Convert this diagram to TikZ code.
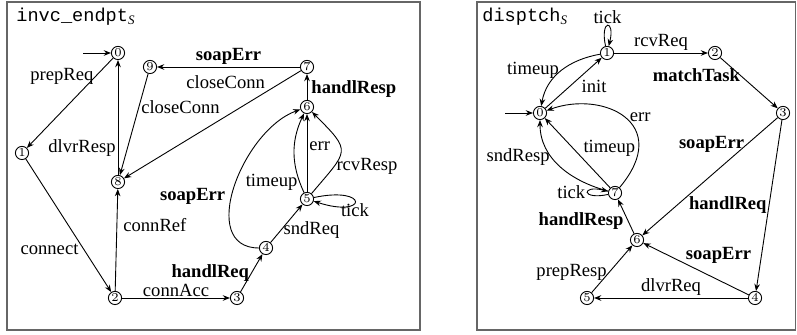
\documentclass[tikz,border=0pt]{standalone}
\usepackage[no-math]{fontspec}
\setmainfont{Liberation Serif}
\setmonofont{Liberation Mono}
\usetikzlibrary{arrows.meta}
\definecolor{framegray}{gray}{0.4}

\begin{document}
\begin{tikzpicture}[
    x=0.5pt, y=0.5pt,
    font=\fontsize{9.3}{10}\selectfont,
    every node/.append style={inner sep=1pt},
    stc/.style={circle, draw, line width=.45pt, minimum size=6.6pt,
                inner sep=0pt, font=\fontsize{6}{7}\selectfont},
    blbl/.style={font=\fontsize{9.3}{10}\selectfont\bfseries},
    a/.style={-{Stealth[length=3.6pt,width=2.8pt]}, line width=.45pt},
    panel/.style={draw=framegray, line width=.8pt}
  ]
  \useasboundingbox (0,0) rectangle (797,335);

  % frames and titles
  \draw[panel] (7,5) rectangle (420,333);
  \draw[panel] (477,5) rectangle (795.5,333);
  \node[anchor=west] (t1) at (14,318) {\texttt{invc\_endpt}\textsubscript{\textit{S}}};
  \node[anchor=west] (t2) at (480,318) {\texttt{disptch}\textsubscript{\textit{S}}};

  % invc_endpt states
  \node[stc] (i0) at (118,282) {$0$};
  \node[stc] (i1) at (22,182)  {$1$};
  \node[stc] (i2) at (115,37)  {$2$};
  \node[stc] (i3) at (237,37)  {$3$};
  \node[stc] (i4) at (266,87)  {$4$};
  \node[stc] (i5) at (307,136) {$5$};
  \node[stc] (i6) at (307,228) {$6$};
  \node[stc] (i7) at (307,268) {$7$};
  \node[stc] (i8) at (118,153) {$8$};
  \node[stc] (i9) at (150,268) {$9$};
  \coordinate (s0) at (83,282);

  \draw[a] (s0) -- (i0);
  \draw[a] (i0) -- node[pos=.2, left] {prepReq} (i1);
  \draw[a] (i1) -- node[pos=.68, left=1.5pt] {connect} (i2);
  \draw[a] (i2) -- node[above, inner sep=.5pt] {connAcc} (i3);
  \draw[a] (i3) -- node[pos=.5, left, blbl] {handlReq} (i4);
  \draw[a] (i4) -- node[pos=.33, right] {sndReq} (i5);
  \draw[a] (i2) -- node[pos=.65, right=2pt] {connRef} (i8);
  \draw[a] (i8) -- node[pos=.23, left] {dlvrResp} (i0);
  \draw[a] (i9) -- node[pos=.33, right] {closeConn} (i8);
  \draw[a] (i7) -- node[above, blbl] {soapErr} (i9);
  \draw[a] (i7) -- node[pos=.19, anchor=south east] {closeConn} (i8);
  \draw[a] (i6) -- node[pos=.43, right=1pt, blbl] {handlResp} (i7);
  \draw[a] (i5) -- node[pos=.59, right] {err} (i6);
  \draw[a] (i5) to[bend left=25] node[pos=.12, left] {timeup} (i6);
  \draw[a] (i5) to[out=50, in=-45, looseness=1.8] node[pos=.27, right] {rcvResp} (i6);
  \draw[a] (i5) .. controls +(12:32pt) and +(-18:32pt) .. node[below] {tick} (i5);
  \draw[a] (i4) to[out=180, in=200, looseness=1.1] node[pos=.45, left=2pt, blbl] {soapErr} (i6);

  % disptch states
  \node[stc] (d0) at (540,222) {$0$};
  \node[stc] (d1) at (607,282) {$1$};
  \node[stc] (d2) at (715,282) {$2$};
  \node[stc] (d3) at (783,222) {$3$};
  \node[stc] (d4) at (755,37)  {$4$};
  \node[stc] (d5) at (587,37)  {$5$};
  \node[stc] (d6) at (637,95)  {$6$};
  \node[stc] (d7) at (615,142) {$7$};
  \coordinate (s1) at (505,222);

  \draw[a] (s1) -- (d0);
  \draw[a] (d1) .. controls +(102:17.5pt) and +(76:17.5pt) .. node[above] {tick} (d1);
  \draw[a] (d1) -- node[above] {rcvReq} (d2);
  \draw[a] (d2) -- node[pos=.35, left, inner sep=0pt, blbl] {matchTask} (d3);
  \draw[a] (d3) -- node[pos=.23, left, blbl] {soapErr} (d6);
  \draw[a] (d3) -- node[pos=.5, left, blbl] {handlReq} (d4);
  \draw[a] (d4) -- node[pos=.6, anchor=south west, inner sep=0pt, blbl] {soapErr} (d6);
  \draw[a] (d4) -- node[above] {dlvrReq} (d5);
  \draw[a] (d5) -- node[pos=.43, left] {prepResp} (d6);
  \draw[a] (d6) -- node[pos=.38, left=1pt, blbl] {handlResp} (d7);
  \draw[a] (d7) .. controls +(192:17.5pt) and +(166:17.5pt) .. node[left] {tick} (d7);
  \draw[a] (d0) -- node[pos=.6, anchor=north west] {init} (d1);
  \draw[a] (d1) to[out=190, in=80] node[pos=.5, left] {timeup} (d0);
  \draw[a] (d7) to[out=165, in=-90] node[pos=.62, left] {sndResp} (d0);
  \draw[a] (d7) -- node[pos=.43, anchor=south west, inner sep=.5pt] {timeup} (d0);
  \draw[a] (d7) to[out=50, in=20, out distance=42pt, in distance=30pt]
    node[pos=.45, anchor=south west, inner sep=0pt] {err} (d0);
\end{tikzpicture}
\end{document}
